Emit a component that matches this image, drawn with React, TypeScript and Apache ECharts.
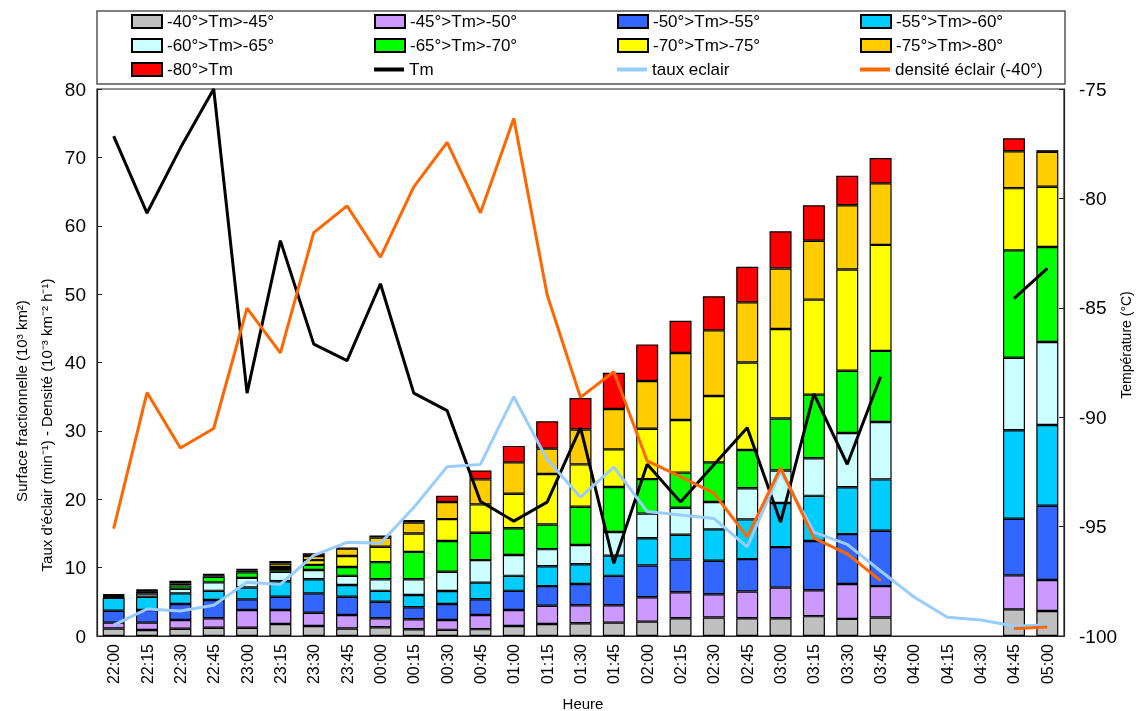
import React, { useEffect, useRef } from 'react';
import * as echarts from 'echarts';

const times = ['22:00','22:15','22:30','22:45','23:00','23:15','23:30','23:45','00:00','00:15','00:30','00:45','01:00','01:15','01:30','01:45','02:00','02:15','02:30','02:45','03:00','03:15','03:30','03:45','04:00','04:15','04:30','04:45','05:00'];

const classNames = ['-40°>Tm>-45°','-45°>Tm>-50°','-50°>Tm>-55°','-55°>Tm>-60°','-60°>Tm>-65°','-65°>Tm>-70°','-70°>Tm>-75°','-75°>Tm>-80°','-80°>Tm'];
const classColors = ['#C0C0C0','#CC99FF','#3366FF','#00CCFF','#CCFFFF','#00FF00','#FFFF00','#FFCC00','#FF0000'];

const s40_45 = [1.1,0.88,1.07,1.2,1.2,1.75,1.46,1.1,1.27,0.98,0.9,1.0,1.46,1.75,1.86,1.95,2.1,2.6,2.7,2.6,2.6,2.9,2.5,2.7,null,null,null,3.9,3.65];
const s45_50 = [0.85,1.07,1.27,1.4,2.6,2.05,1.94,1.97,1.33,1.46,1.44,2.07,2.34,2.68,2.64,2.55,3.56,3.8,3.4,3.9,4.47,3.8,5.1,4.6,null,null,null,4.97,4.55];
const s50_55 = [1.75,1.85,2.34,2.66,1.56,1.95,2.84,2.68,2.4,1.76,2.34,2.3,2.8,2.87,3.1,4.3,4.64,4.8,4.9,4.75,5.93,7.2,7.3,8.1,null,null,null,8.28,10.85];
const s55_60 = [1.9,1.95,1.56,1.34,1.74,2.25,2.05,1.71,1.6,1.8,1.9,2.43,2.2,2.9,2.9,2.95,4.0,3.6,4.6,5.8,6.45,6.6,6.85,7.5,null,null,null,12.95,11.8];
const s60_65 = [0.1,0.45,0.66,1.25,1.4,1.4,1.36,1.34,1.7,2.3,2.82,3.3,3.05,2.5,2.8,3.45,3.6,3.95,4.0,4.55,4.75,5.5,7.95,8.4,null,null,null,10.6,12.15];
const s65_70 = [0.1,0.3,0.5,0.82,0.8,0.4,0.75,1.3,2.5,4.0,4.5,4.0,3.9,3.6,5.6,6.6,5.05,5.15,5.8,5.6,7.6,9.3,9.1,10.4,null,null,null,15.7,13.9];
const s70_75 = [0.1,0.1,0.3,0.18,0.25,0.3,0.7,1.6,2.25,2.7,3.2,4.15,5.05,7.4,6.2,5.5,7.35,7.7,9.7,12.8,13.1,13.9,14.8,15.5,null,null,null,9.1,8.8];
const s75_80 = [0.1,0.1,0.25,0.12,0.15,0.5,0.6,1.1,1.35,1.6,2.5,3.65,4.6,3.7,5.1,5.9,7.0,9.8,9.6,8.8,8.85,8.6,9.4,9.0,null,null,null,5.4,5.1];
const s80 = [0.1,0.1,0.05,0.09,0.1,0.36,0.4,0.1,0.3,0.36,0.9,1.3,2.4,4.0,4.6,5.3,5.35,4.7,5.0,5.2,5.45,5.2,4.3,3.7,null,null,null,1.9,0.25];
const classData = [s40_45, s45_50, s50_55, s55_60, s60_65, s65_70, s70_75, s75_80, s80];

const tm = [-77.15,-80.67,-77.7,-75.0,-88.9,-81.93,-86.66,-87.41,-83.9,-88.9,-89.7,-93.85,-94.75,-93.88,-90.48,-96.68,-92.15,-93.88,-92.17,-90.48,-94.8,-88.93,-92.15,-88.15,null,null,null,-84.58,-83.2];
const tauxEclair = [1.6,3.95,3.65,4.5,7.85,7.55,11.8,13.7,13.55,18.8,24.75,25.1,35.0,25.8,20.3,24.7,18.2,17.7,17.2,13.05,24.1,15.2,13.4,9.5,5.7,2.75,2.35,1.45,1.6];
const densite = [15.7,35.6,27.5,30.35,47.95,41.4,59.0,62.9,55.4,65.7,72.2,61.9,75.7,49.9,34.9,38.65,25.6,23.3,20.9,14.5,24.6,14.3,12.0,8.1,null,null,null,1.1,1.3];

const lineNames = ['Tm', 'taux eclair', 'densité éclair (-40°)'];
const lineColors = ['#000000', '#99CCFF', '#FF6600'];

const FONT = '"Liberation Sans", Arial, sans-serif';

export default function App() {
  const ref = useRef<HTMLDivElement>(null);
  useEffect(() => {
    if (!ref.current) return;
    const chart = echarts.init(ref.current, null, { renderer: 'svg' });
    const allNames = [...classNames, ...lineNames];
    const colsX = [131, 374, 617, 860];
    const rowsY = [22, 46, 70];
    const legends = allNames.map((n, i) => {
      const isLine = i >= classNames.length;
      return {
        data: [{ name: n, icon: 'rect' }],
        left: colsX[i % 4],
        top: rowsY[Math.floor(i / 4)] - 9,
        itemWidth: 30,
        itemHeight: isLine ? 4 : 13,
        padding: 0,
        selectedMode: false,
        textStyle: { fontSize: 17, color: '#000', fontFamily: FONT },
      };
    });
    const barSeries = classNames.map((n, i) => ({
      name: n,
      type: 'bar',
      stack: 'surf',
      barWidth: 22,
      data: classData[i],
      itemStyle: { color: classColors[i], borderColor: '#000', borderWidth: 1.2 },
      z: 2,
    }));
    const lineData = [tm, tauxEclair, densite];
    const lineSeries = lineNames.map((n, i) => ({
      name: n,
      type: 'line',
      yAxisIndex: i === 0 ? 1 : 0,
      data: lineData[i],
      symbol: 'none',
      connectNulls: false,
      lineStyle: { color: lineColors[i], width: 3 },
      itemStyle: { color: lineColors[i] },
      z: 3 + i,
    }));
    chart.setOption({
      animation: false,
      textStyle: { fontFamily: FONT },
      legend: legends,
      grid: { left: 97, right: 73, top: 89, bottom: 75, show: true, borderColor: '#222', borderWidth: 1.2, backgroundColor: 'transparent' },
      xAxis: {
        type: 'category',
        data: times,
        axisLine: { lineStyle: { color: '#222', width: 1.2 } },
        axisTick: { show: false },
        axisLabel: { rotate: 90, fontSize: 16, color: '#000', margin: 8, interval: 0, fontFamily: FONT },
      },
      yAxis: [
        {
          type: 'value', min: 0, max: 80, interval: 10,
          axisLine: { show: true, lineStyle: { color: '#222', width: 1.2 } },
          axisTick: { show: true, inside: true, length: 5, lineStyle: { color: '#222' } },
          axisLabel: { fontSize: 19, color: '#000', margin: 11, fontFamily: FONT },
          splitLine: { show: false },
        },
        {
          type: 'value', min: -100, max: -75, interval: 5,
          axisLine: { show: true, lineStyle: { color: '#222', width: 1.2 } },
          axisTick: { show: true, inside: true, length: 5, lineStyle: { color: '#222' } },
          axisLabel: { fontSize: 19, color: '#000', margin: 15, fontFamily: FONT },
          splitLine: { show: false },
        },
      ],
      graphic: [
        { type: 'rect', shape: { x: 97, y: 11, width: 968, height: 73 }, style: { fill: 'none', stroke: '#555', lineWidth: 1.5 }, silent: true },
        { type: 'text', x: 21, y: 401, rotation: Math.PI / 2, style: { text: 'Surface fractionnelle (10³ km²)', fontSize: 15, fontFamily: FONT, fill: '#000', align: 'center', verticalAlign: 'middle' } },
        { type: 'text', x: 46, y: 425, rotation: Math.PI / 2, style: { text: "Taux d'éclair (min⁻¹) - Densité (10⁻³ km⁻² h⁻¹)", fontSize: 15, fontFamily: FONT, fill: '#000', align: 'center', verticalAlign: 'middle' } },
        { type: 'text', x: 1126, y: 345, rotation: Math.PI / 2, style: { text: 'Température (°C)', fontSize: 14, fontFamily: FONT, fill: '#000', align: 'center', verticalAlign: 'middle' } },
        { type: 'text', x: 583, y: 703, style: { text: 'Heure', fontSize: 15, fontFamily: FONT, fill: '#000', align: 'center', verticalAlign: 'middle' } },
      ],
      series: [...barSeries, ...lineSeries],
    });
    return () => chart.dispose();
  }, []);
  return <div ref={ref} style={{ position: 'fixed', left: 0, top: 0, width: 1137, height: 711 }} />;
}
